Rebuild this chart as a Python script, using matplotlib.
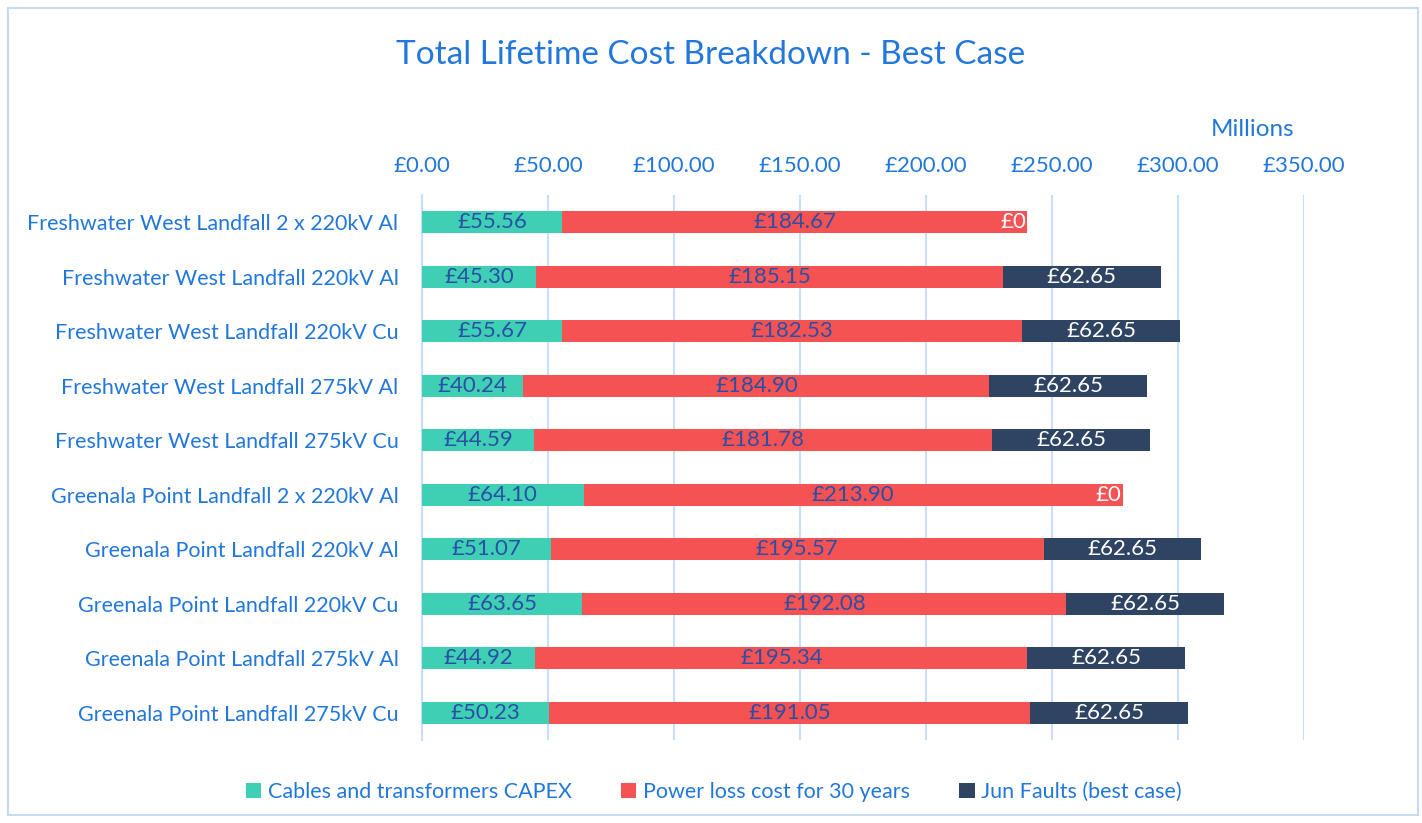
import numpy as np
import matplotlib.pyplot as plt
from matplotlib.patches import Rectangle

plt.rcParams['font.family'] = ['Lato', 'DejaVu Sans']

# data (millions of pounds)
options = [
    "Freshwater West Landfall 2 x 220kV Al",
    "Freshwater West Landfall 220kV Al",
    "Freshwater West Landfall 220kV Cu",
    "Freshwater West Landfall 275kV Al",
    "Freshwater West Landfall 275kV Cu",
    "Greenala Point Landfall 2 x 220kV Al",
    "Greenala Point Landfall 220kV Al",
    "Greenala Point Landfall 220kV Cu",
    "Greenala Point Landfall 275kV Al",
    "Greenala Point Landfall 275kV Cu",
]
capex = [55.56, 45.30, 55.67, 40.24, 44.59, 64.10, 51.07, 63.65, 44.92, 50.23]
power_loss = [184.67, 185.15, 182.53, 184.90, 181.78, 213.90, 195.57, 192.08, 195.34, 191.05]
faults = [0.0, 62.65, 62.65, 62.65, 62.65, 0.0, 62.65, 62.65, 62.65, 62.65]
series_names = ["Cables and transformers CAPEX", "Power loss cost for 30 years", "Jun Faults (best case)"]
xticks = [0, 50, 100, 150, 200, 250, 300, 350]

teal = "#3ecfb4"
red = "#f55253"
navy = "#2e4462"
txt_blue = "#2277da"
lab_dark = "#2b4fa5"

fig = plt.figure(figsize=(14.22, 8.23), dpi=100)
ax = fig.add_axes([422/1422, 1-740/823, 882/1422, 545/823])

y = np.arange(len(options))
capex = np.array(capex)
power_loss = np.array(power_loss)
faults = np.array(faults)
h = 0.41

b1 = ax.barh(y, capex, height=h, color=teal, label=series_names[0], zorder=3)
b2 = ax.barh(y, power_loss, left=capex, height=h, color=red, label=series_names[1], zorder=3)
b3 = ax.barh(y, faults, left=capex + power_loss, height=h, color=navy, label=series_names[2], zorder=3)

# data labels
fs = 16
for i in range(len(options)):
    ax.text(capex[i] / 2, y[i], f"£{capex[i]:.2f}", ha='center', va='center',
            color=lab_dark, fontsize=fs, zorder=4)
    ax.text(capex[i] + power_loss[i] / 2, y[i], f"£{power_loss[i]:.2f}", ha='center', va='center',
            color=lab_dark, fontsize=fs, zorder=4)
    end = capex[i] + power_loss[i]
    if faults[i] > 0:
        ax.text(end + faults[i] / 2, y[i], f"£{faults[i]:.2f}", ha='center', va='center',
                color='white', fontsize=fs, zorder=4)
    else:
        ax.text(end - 0.5, y[i], "£0", ha='right', va='center',
                color='white', fontsize=fs, zorder=4)

ax.set_xlim(0, 350)
ax.set_ylim(len(options) - 0.5, -0.5)
ax.set_yticks(y)
ax.set_yticklabels(options, fontsize=15.5, color=txt_blue)
ax.set_xticks(xticks)
ax.set_xticklabels([f"£{v:.2f}" for v in xticks], fontsize=16, color=txt_blue)
ax.xaxis.tick_top()
ax.tick_params(axis='y', length=0, pad=17)
ax.tick_params(axis='x', length=0, pad=14)
ax.grid(axis='x', color='#c9def7', linewidth=1.5, zorder=0)
for s in ['top', 'right', 'bottom']:
    ax.spines[s].set_visible(False)
ax.spines['left'].set_color('#c9def7')
ax.spines['left'].set_linewidth(1.5)

fig.text(1253/1422, 1-129/823, "Millions", ha='center', va='center', fontsize=17.5, color=txt_blue)
fig.text(711/1422, 1-55/823, "Total Lifetime Cost Breakdown - Best Case", ha='center', va='center',
         fontsize=24, color=txt_blue)

leg = fig.legend(handles=[b1, b2, b3], loc='center', bbox_to_anchor=(714/1422, 1-792/823), ncol=3,
                 frameon=False, fontsize=15.5, handlelength=0.7, handleheight=0.7,
                 handletextpad=0.3, columnspacing=2.3)
for t in leg.get_texts():
    t.set_color(txt_blue)

fig.patches.append(Rectangle((8/1422, 1-815/823), 1410/1422, 807/823, transform=fig.transFigure,
                             fill=False, edgecolor='#c8daf0', linewidth=1.5))

fig.savefig("out.png", dpi=100)
